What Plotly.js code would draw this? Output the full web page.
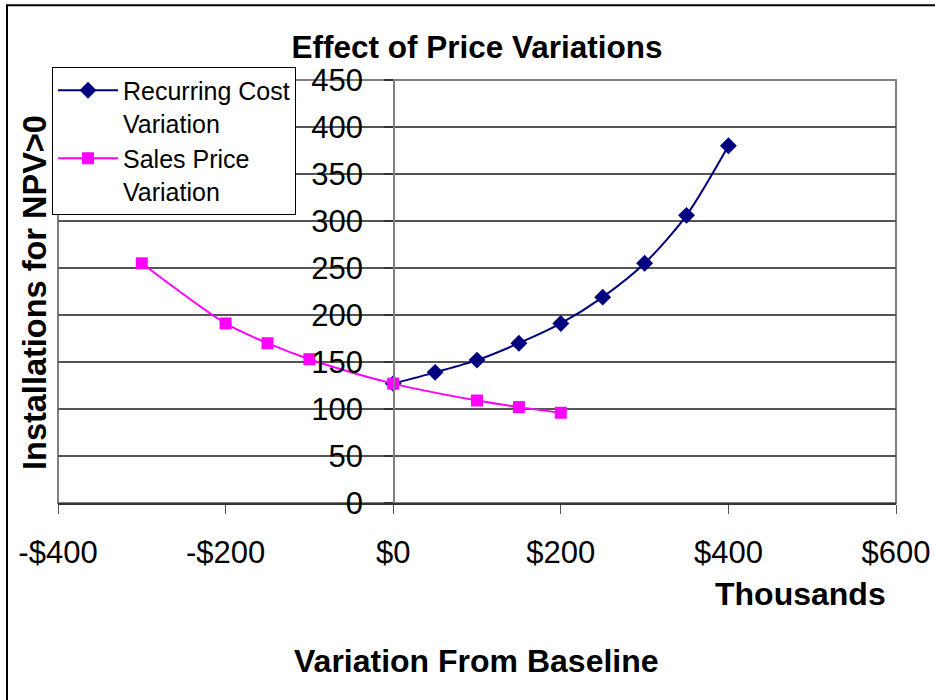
<!DOCTYPE html>
<html>
<head>
<meta charset="utf-8">
<script src="https://cdn.plot.ly/plotly-3.0.1.min.js"></script>
<style>html,body{margin:0;padding:0;background:#fff;}#chart{width:935px;height:700px;}</style>
</head>
<body>
<div id="chart"></div>
<script>
// Data (x in $ thousands)
const recurringX = [0, 50, 100, 150, 200, 250, 300, 350, 400];
const recurringY = [127, 139, 152, 170, 191, 219, 255, 306, 380];
const salesX = [-300, -200, -150, -100, 0, 100, 150, 200];
const salesY = [255, 191, 170, 153, 127, 109, 102, 96];
const xTickVals = [-400, -200, 0, 200, 400, 600];
const xTickText = ["-$400", "-$200", "$0", "$200", "$400", "$600"];
const yTickVals = [0, 50, 100, 150, 200, 250, 300, 350, 400, 450];

const FONT = "Liberation Sans, Arial, sans-serif";

const traces = [
  {
    x: recurringX, y: recurringY, name: "Recurring Cost<br>Variation",
    type: "scatter", mode: "lines+markers",
    line: {color: "#000080", width: 2, shape: "spline", smoothing: 0.8},
    marker: {symbol: "diamond", size: 13, color: "#000080"}
  },
  {
    x: salesX, y: salesY, name: "Sales Price<br>Variation",
    type: "scatter", mode: "lines+markers",
    line: {color: "#FF00FF", width: 2, shape: "spline", smoothing: 0.8},
    marker: {symbol: "square", size: 12, color: "#FF00FF"}
  }
];

const L = 58, R = 896, T = 79.5, B = 503.5;
const W = R - L, H = B - T;
const px = v => (v - L) / W;
const py = v => (B - v) / H;

const layout = {
  width: 935, height: 700,
  margin: {l: L, r: 935 - R, t: T, b: 700 - B, pad: 0},
  paper_bgcolor: "#fff", plot_bgcolor: "#fff",
  font: {family: FONT, color: "#000", size: 30},
  showlegend: true,
  title: {
    text: "<b>Effect of Price Variations</b>",
    font: {family: FONT, size: 31.5, color: "#000"},
    xref: "paper", x: 0.5, xanchor: "center",
    yref: "container", y: 1 - 47 / 700, yanchor: "middle"
  },
  xaxis: {
    range: [-400, 600], tickvals: xTickVals, ticktext: xTickText,
    showgrid: false, zeroline: false,
    showline: true, linecolor: "#333", linewidth: 2,
    ticks: "outside", ticklen: 9, tickcolor: "#555", tickwidth: 1,
    tickfont: {family: FONT, size: 31, color: "#000"},
    ticklabelstandoff: 12
  },
  yaxis: {
    range: [0, 450], tickvals: yTickVals,
    anchor: "free", position: 0.4,
    showgrid: true, gridcolor: "#555", gridwidth: 1.5,
    zeroline: false, showline: true, linecolor: "#808080", linewidth: 1.5,
    ticks: "outside", ticklen: 9, tickcolor: "#333", tickwidth: 2,
    tickfont: {family: FONT, size: 31, color: "#000"},
    ticklabelstandoff: 15
  },
  legend: {
    x: px(52), y: py(66), xanchor: "left", yanchor: "top",
    bgcolor: "#fff", bordercolor: "#000", borderwidth: 1,
    font: {family: FONT, size: 25, color: "#000"},
    itemwidth: 60, tracegroupgap: 0, valign: "top"
  },
  annotations: [
    {text: "<b>Installations for NPV>0</b>", textangle: -90,
     xref: "paper", yref: "paper", x: px(35), y: py(293),
     xanchor: "center", yanchor: "middle", showarrow: false,
     font: {family: FONT, size: 32.5, color: "#000"}},
    {text: "<b>Thousands</b>",
     xref: "paper", yref: "paper", x: px(888), y: py(595),
     xanchor: "right", yanchor: "middle", showarrow: false,
     font: {family: FONT, size: 32, color: "#000"}},
    {text: "<b>Variation From Baseline</b>",
     xref: "paper", yref: "paper", x: px(476), y: py(662),
     xanchor: "center", yanchor: "middle", showarrow: false,
     font: {family: FONT, size: 32, color: "#000"}}
  ],
  shapes: [
    {type: "rect", xref: "paper", yref: "paper", x0: 0, x1: 1, y0: 0, y1: 1,
     line: {color: "#808080", width: 2}, layer: "below"},
    {type: "rect", xref: "paper", yref: "paper", x0: px(7), x1: px(945), y0: py(4.5), y1: py(710),
     line: {color: "#000", width: 2}, layer: "below"}
  ]
};

Plotly.newPlot("chart", traces, layout, {displayModeBar: false, staticPlot: true});
</script>
</body>
</html>
